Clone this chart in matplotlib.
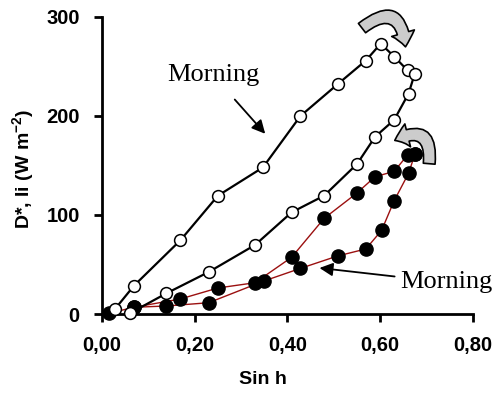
import numpy as np
import matplotlib
matplotlib.use("Agg")
import matplotlib.pyplot as plt
from matplotlib.patches import FancyArrowPatch
from matplotlib.ticker import FuncFormatter

# Dados (Sin h, W m-2)
# D* - circulos abertos: manha (ramo de cima) e tarde (ramo de baixo)
d_manha_x = [0.028, 0.069, 0.169, 0.250, 0.347, 0.428, 0.508, 0.569, 0.601]
d_manha_y = [5, 28.6, 74.4, 119.5, 148, 200, 232, 256, 273]
d_tarde_x = [0.601, 0.630, 0.659, 0.674, 0.661, 0.630, 0.589, 0.550, 0.479, 0.409, 0.330, 0.230, 0.139, 0.060]
d_tarde_y = [273, 260, 246, 242, 222.5, 196, 179, 151.5, 119.5, 102.7, 69.7, 42.4, 20.9, 0.7]

# Ii - circulos cheios: manha (ramo de baixo) e tarde (ramo de cima)
i_manha_x = [0.015, 0.069, 0.139, 0.230, 0.349, 0.428, 0.508, 0.569, 0.603, 0.630, 0.661, 0.675]
i_manha_y = [0.7, 6.8, 8.1, 11.4, 33.3, 46.1, 58.6, 65.7, 84.5, 114.4, 142, 161.6]
i_tarde_x = [0.675, 0.659, 0.630, 0.589, 0.549, 0.479, 0.409, 0.330, 0.250, 0.169, 0.069]
i_tarde_y = [161.6, 160.6, 144, 138.7, 121.9, 96.6, 57.3, 31.6, 26.3, 15.2, 6.8]

x_ticks = [0.0, 0.2, 0.4, 0.6, 0.8]
y_ticks = [0, 100, 200, 300]

plt.rcParams['font.family'] = ['Liberation Sans', 'DejaVu Sans']

fig = plt.figure(figsize=(4.96, 3.94), dpi=100)
ax = fig.add_axes([0.2056, 0.203, 0.748, 0.754])

# Linhas vermelhas + pontos cheios
ax.plot(i_manha_x, i_manha_y, color='#9b1010', lw=1.0, zorder=2)
ax.plot(i_tarde_x, i_tarde_y, color='#9b1010', lw=1.0, zorder=2)
ax.plot(i_manha_x + i_tarde_x, i_manha_y + i_tarde_y, ls='none', marker='o',
        ms=9.5, mfc='black', mec='black', zorder=3, clip_on=False)

# Linhas pretas + pontos abertos
ax.plot(d_manha_x + d_tarde_x[1:], d_manha_y + d_tarde_y[1:], color='black', lw=1.6,
        marker='o', ms=8.5, mfc='white', mec='black', mew=1.1, zorder=4, clip_on=False)

# Anotacoes "Morning"
ax.annotate('Morning', xy=(0.352, 182), xytext=(0.240, 241), ha='center', va='center',
            fontsize=19, family='Liberation Serif',
            arrowprops=dict(arrowstyle='-|>', color='black', lw=1.3, mutation_scale=20,
                            shrinkA=10, shrinkB=0))
ax.annotate('Morning', xy=(0.469, 46.5), xytext=(0.643, 32), ha='left', va='center',
            fontsize=19, family='Liberation Serif',
            arrowprops=dict(arrowstyle='-|>', color='black', lw=1.3, mutation_scale=20,
                            shrinkA=2, shrinkB=0))

# Setas curvas cinzas
seta1 = FancyArrowPatch((0.556, 287), (0.655, 267), connectionstyle='arc3,rad=-0.95',
                        arrowstyle='simple,head_width=1.7,head_length=1.0,tail_width=0.85',
                        mutation_scale=10, fc='#cccccc', ec='black', lw=1.2, zorder=6,
                        clip_on=False)
ax.add_patch(seta1)
seta2 = FancyArrowPatch((0.705, 149), (0.626, 174), connectionstyle='arc3,rad=0.95',
                        arrowstyle='simple,head_width=1.7,head_length=1.0,tail_width=0.85',
                        mutation_scale=10, fc='#cccccc', ec='black', lw=1.2, zorder=6,
                        clip_on=False)
ax.add_patch(seta2)

ax.set_xlim(0, 0.8)
ax.set_ylim(0, 300)
ax.set_xticks(x_ticks)
ax.set_yticks(y_ticks)
ax.xaxis.set_major_formatter(FuncFormatter(lambda v, p: '{:.2f}'.format(v).replace('.', ',')))

for s in ['top', 'right']:
    ax.spines[s].set_visible(False)
for s in ['left', 'bottom']:
    ax.spines[s].set_linewidth(2)

ax.tick_params(direction='out', length=6, width=2, labelsize=14.5, pad=10)
for lab in ax.get_xticklabels() + ax.get_yticklabels():
    lab.set_fontweight('bold')

ax.set_xlabel('Sin h', fontsize=14, fontweight='bold', va='center', ha='center')
ax.xaxis.set_label_coords(0.435, -0.222)
ax.set_ylabel(r'D*, Ii (W m$^{\mathregular{-2}}$)', fontsize=14, fontweight='bold',
              va='center', ha='center')
ax.yaxis.set_label_coords(-0.21, 0.49)

fig.savefig('out.png', dpi=100)
